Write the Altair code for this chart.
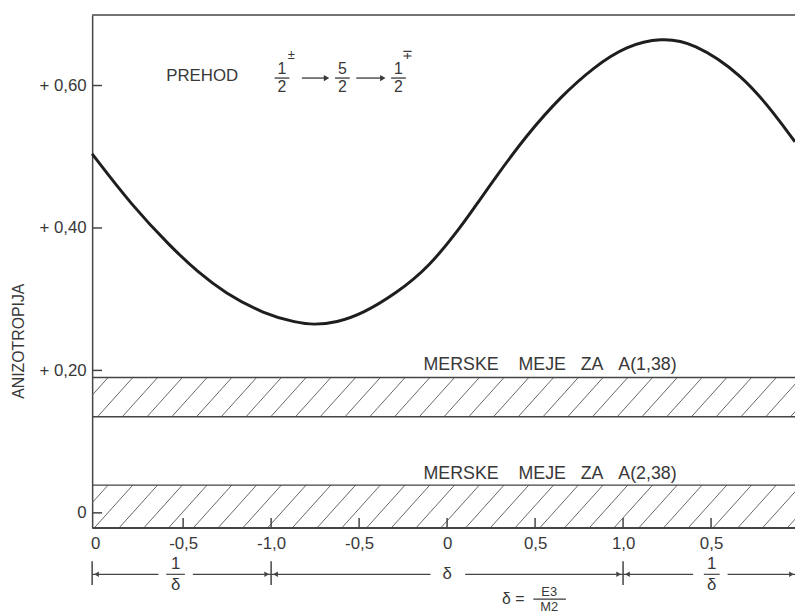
import altair as alt
import pandas as pd

# ---------------- data ----------------
# horizontal position t:  0 -> 1/δ = 0,  1 -> δ = -1,  2 -> δ = 0,  3 -> δ = +1,  4 -> 1/δ = 0
X_MIN, X_MAX = -0.017, 3.977
Y_MIN, Y_MAX = -0.021, 0.699
W, H = 710, 518

curve_t = [-0.017, 0.207, 0.432, 0.584, 0.736, 0.961, 1.147, 1.242, 1.371, 1.523,
           1.709, 1.894, 2.086, 2.176, 2.272, 2.457, 2.648, 2.834, 3.020, 3.217,
           3.397, 3.678, 3.864, 3.977]
curve_a = [0.504, 0.432, 0.373, 0.338, 0.309, 0.279, 0.267, 0.264, 0.267, 0.280,
           0.308, 0.344, 0.404, 0.436, 0.470, 0.532, 0.585, 0.626, 0.656, 0.667,
           0.661, 0.615, 0.559, 0.521]

x_tick_pos = [0, 0.5, 1, 1.5, 2, 2.5, 3, 3.5]
x_tick_labels = ["0", "-0,5", "-1,0", "-0,5", "0", "0,5", "1,0", "0,5"]
y_tick_pos = [0, 0.2, 0.4, 0.6]
y_tick_labels = ["0", "+\u00a00,20", "+\u00a00,40", "+\u00a00,60"]

band_low = [0.135, Y_MIN]
band_high = [0.19, 0.039]
S4, S3 = "\u00a0" * 4, "\u00a0" * 3
band_labels = [f"MERSKE{S4}MEJE{S3}ZA{S3}A(1,38)", f"MERSKE{S4}MEJE{S3}ZA{S3}A(2,38)"]
band_label_a = [0.207, 0.054]
band_label_t = [1.866, 1.866]

# bottom δ scale annotation
bracket_bars = [X_MIN, 1.0, 3.0]
bracket_a = -0.0863
bracket_bar_top, bracket_bar_bot = -0.068, -0.1014
bracket_segments = [(X_MIN, 0.36), (0.555, 1.0), (1.0, 1.906), (2.103, 3.0), (3.0, 3.398), (3.594, X_MAX)]
frac_centers = [0.457, 3.504]
frac_half = [0.053, 0.045]

TEXT = "#383838"
LINE = "#444444"
FONT = "Liberation Sans"

px_t = W / (X_MAX - X_MIN)
px_a = H / (Y_MAX - Y_MIN)

# hatch pattern segments for the two measurement bands
HATCH_STEP_PX = 25
HATCH_SLANT = 0.9
hatch = []
for lo, hi in zip(band_low, band_high):
    dx = (hi - lo) * px_a * HATCH_SLANT / px_t
    t = X_MIN - dx - 0.05
    while t < X_MAX + 0.05:
        hatch.append({"x": t, "y": lo, "x2": t + dx, "y2": hi})
        t += HATCH_STEP_PX / px_t
hatch_df = pd.DataFrame(hatch)

edges_df = pd.DataFrame({"x": [X_MIN] * 4, "x2": [X_MAX] * 4,
                         "y": band_low + band_high})

curve_df = pd.DataFrame({"t": curve_t, "a": curve_a})

xs = alt.Scale(domain=[X_MIN, X_MAX], nice=False, zero=False)
ys = alt.Scale(domain=[Y_MIN, Y_MAX], nice=False, zero=False)


def label_expr(vals, labs):
    s = "''"
    for v, l in reversed(list(zip(vals, labs))):
        s = f"(abs(datum.value - {v}) < 1e-6 ? '{l}' : {s})"
    return s


x_axis = alt.Axis(values=x_tick_pos, labelExpr=label_expr(x_tick_pos, x_tick_labels),
                  ticks=False, tickSize=0, grid=False, labelPadding=8, labelFlush=False,
                  labelFontSize=17, labelColor=TEXT, labelFont=FONT,
                  domainColor=LINE, domainWidth=1.5, title=None)
y_axis = alt.Axis(values=y_tick_pos, labelExpr=label_expr(y_tick_pos, y_tick_labels),
                  ticks=False, tickSize=0, grid=False, labelPadding=6, labelFlush=False,
                  labelFontSize=17, labelColor=TEXT, labelFont=FONT,
                  domainColor=LINE, domainWidth=1.5,
                  title="ANIZOTROPIJA", titleFontSize=16, titleFont=FONT, titleColor=TEXT,
                  titleFontWeight="normal", titleX=-74, titleY=329, titleBaseline="middle",
                  titleAlign="center", titleAngle=270)


def X(f):
    return alt.X(f, type="quantitative", scale=xs, axis=x_axis)


def Y(f):
    return alt.Y(f, type="quantitative", scale=ys, axis=y_axis)


hatch_layer = alt.Chart(hatch_df).mark_rule(color="#666666", strokeWidth=1, clip=True).encode(
    x=X("x"), y=Y("y"), x2="x2:Q", y2="y2:Q")

edges_layer = alt.Chart(edges_df).mark_rule(color=LINE, strokeWidth=1.4).encode(
    x=X("x"), x2="x2:Q", y=Y("y"))

curve_layer = alt.Chart(curve_df).mark_line(color="#1e1e1e", strokeWidth=3,
                                            interpolate="basis").encode(
    x=X("t"), y=Y("a"))

frame_layer = alt.Chart(pd.DataFrame({"x": [X_MIN], "x2": [X_MAX], "y": [Y_MAX]})).mark_rule(
    color=LINE, strokeWidth=1.5).encode(x=X("x"), x2="x2:Q", y=Y("y"))

xticks_layer = alt.Chart(pd.DataFrame({"x": x_tick_pos[1:]})).mark_rule(
    color=LINE, strokeWidth=1.5).encode(x=X("x"), y=alt.value(H), y2=alt.value(H - 10))
yticks_layer = alt.Chart(pd.DataFrame({"y": y_tick_pos})).mark_rule(
    color=LINE, strokeWidth=1.5).encode(y=Y("y"), x=alt.value(0), x2=alt.value(10))

band_text = alt.Chart(pd.DataFrame({"x": band_label_t, "y": band_label_a, "s": band_labels})).mark_text(
    align="left", baseline="middle", fontSize=18, font=FONT, color=TEXT).encode(
    x=X("x"), y=Y("y"), text="s:N")

# ---- transition annotation  PREHOD 1/2± -> 5/2 -> 1/2∓ ----
prehod = alt.Chart(pd.DataFrame({"x": [0.404], "y": [0.613], "s": ["PREHOD"]})).mark_text(
    align="left", baseline="middle", fontSize=17, font=FONT, color=TEXT).encode(
    x=X("x"), y=Y("y"), text="s:N")

frac_x = [1.062, 1.405, 1.724]
num_df = pd.DataFrame({"x": frac_x * 2, "y": [0.6235] * 3 + [0.5985] * 3,
                       "s": ["1", "5", "1", "2", "2", "2"]})
nums = alt.Chart(num_df).mark_text(align="center", baseline="middle", fontSize=16, font=FONT,
                                   color=TEXT).encode(x=X("x"), y=Y("y"), text="s:N")
sup_df = pd.DataFrame({"x": [1.115, 1.775], "y": [0.6435, 0.6425], "s": ["±", "∓"]})
sups = alt.Chart(sup_df).mark_text(align="center", baseline="middle", fontSize=13, font=FONT,
                                   color=TEXT).encode(x=X("x"), y=Y("y"), text="s:N")
fbar_df = pd.DataFrame({"x": [f - 0.042 for f in frac_x], "x2": [f + 0.042 for f in frac_x],
                        "y": [0.6105] * 3})
fbars = alt.Chart(fbar_df).mark_rule(color=TEXT, strokeWidth=1.3).encode(
    x=X("x"), x2="x2:Q", y=Y("y"))
arr_df = pd.DataFrame({"x": [1.175, 1.484], "x2": [1.31, 1.63], "y": [0.6105, 0.6105]})
arr_lines = alt.Chart(arr_df).mark_rule(color=TEXT, strokeWidth=1.3).encode(
    x=X("x"), x2="x2:Q", y=Y("y"))
arr_heads = alt.Chart(pd.DataFrame({"x": [1.315, 1.635], "y": [0.6105, 0.6105]})).mark_point(
    shape="triangle-right", filled=True, size=40, color=TEXT, opacity=1).encode(x=X("x"), y=Y("y"))

# ---- bottom δ bracket ----
seg_df = pd.DataFrame({"x": [s[0] for s in bracket_segments], "x2": [s[1] for s in bracket_segments],
                       "y": [bracket_a] * len(bracket_segments)})
segs = alt.Chart(seg_df).mark_rule(color=LINE, strokeWidth=1.2).encode(
    x=X("x"), x2="x2:Q", y=Y("y"))
bars_df = pd.DataFrame({"x": bracket_bars, "y": [bracket_bar_top] * 3, "y2": [bracket_bar_bot] * 3})
bars = alt.Chart(bars_df).mark_rule(color=LINE, strokeWidth=1.5).encode(
    x=X("x"), y=Y("y"), y2="y2:Q")
head_df = pd.DataFrame({"x": [X_MIN + 0.025, 1.0 - 0.025, 1.0 + 0.025, 3.0 - 0.025, 3.0 + 0.025, X_MAX - 0.02],
                        "y": [bracket_a] * 6,
                        "shape": ["triangle-left", "triangle-right", "triangle-left",
                                  "triangle-right", "triangle-left", "triangle-right"]})
heads = alt.Chart(head_df).mark_point(filled=True, size=30, color=LINE, opacity=1).encode(
    x=X("x"), y=Y("y"), shape=alt.Shape("shape:N", scale=None, legend=None))
bfrac_bar_df = pd.DataFrame({"x": [c - h for c, h in zip(frac_centers, frac_half)],
                             "x2": [c + h for c, h in zip(frac_centers, frac_half)],
                             "y": [bracket_a] * 2})
bfrac_bars = alt.Chart(bfrac_bar_df).mark_rule(color=LINE, strokeWidth=1.2).encode(
    x=X("x"), x2="x2:Q", y=Y("y"))
btext_df = pd.DataFrame({"x": frac_centers * 2 + [2.0],
                         "y": [-0.0725, -0.0725, -0.1015, -0.1015, -0.0855],
                         "s": ["1", "1", "δ", "δ", "δ"]})
btext = alt.Chart(btext_df).mark_text(align="center", baseline="middle", fontSize=17, font=FONT,
                                      color=TEXT).encode(x=X("x"), y=Y("y"), text="s:N")

# δ = E3 / M2
def_eq = alt.Chart(pd.DataFrame({"x": [2.44], "y": [-0.1215], "s": ["δ\u00a0="]})).mark_text(
    align="right", baseline="middle", fontSize=16, font=FONT, color=TEXT).encode(
    x=X("x"), y=Y("y"), text="s:N")
def_fr = alt.Chart(pd.DataFrame({"x": [2.58, 2.58], "y": [-0.1105, -0.1325], "s": ["E3", "M2"]})).mark_text(
    align="center", baseline="middle", fontSize=13, font=FONT, color=TEXT).encode(
    x=X("x"), y=Y("y"), text="s:N")
def_bar = alt.Chart(pd.DataFrame({"x": [2.49], "x2": [2.675], "y": [-0.1212]})).mark_rule(
    color=TEXT, strokeWidth=1.3).encode(x=X("x"), x2="x2:Q", y=Y("y"))

chart = alt.layer(
    curve_layer, hatch_layer, edges_layer, frame_layer, xticks_layer, yticks_layer,
    band_text, prehod, nums, sups, fbars, arr_lines, arr_heads,
    segs, bars, heads, bfrac_bars, btext, def_eq, def_fr, def_bar,
).properties(
    width=W, height=H,
    padding={"left": 85, "top": 4, "right": 0, "bottom": 86},
    autosize=alt.AutoSizeParams(type="none"),
    background="white",
).configure_view(stroke=None)

chart.save("out.html", embed_options={"renderer": "svg", "actions": False})
